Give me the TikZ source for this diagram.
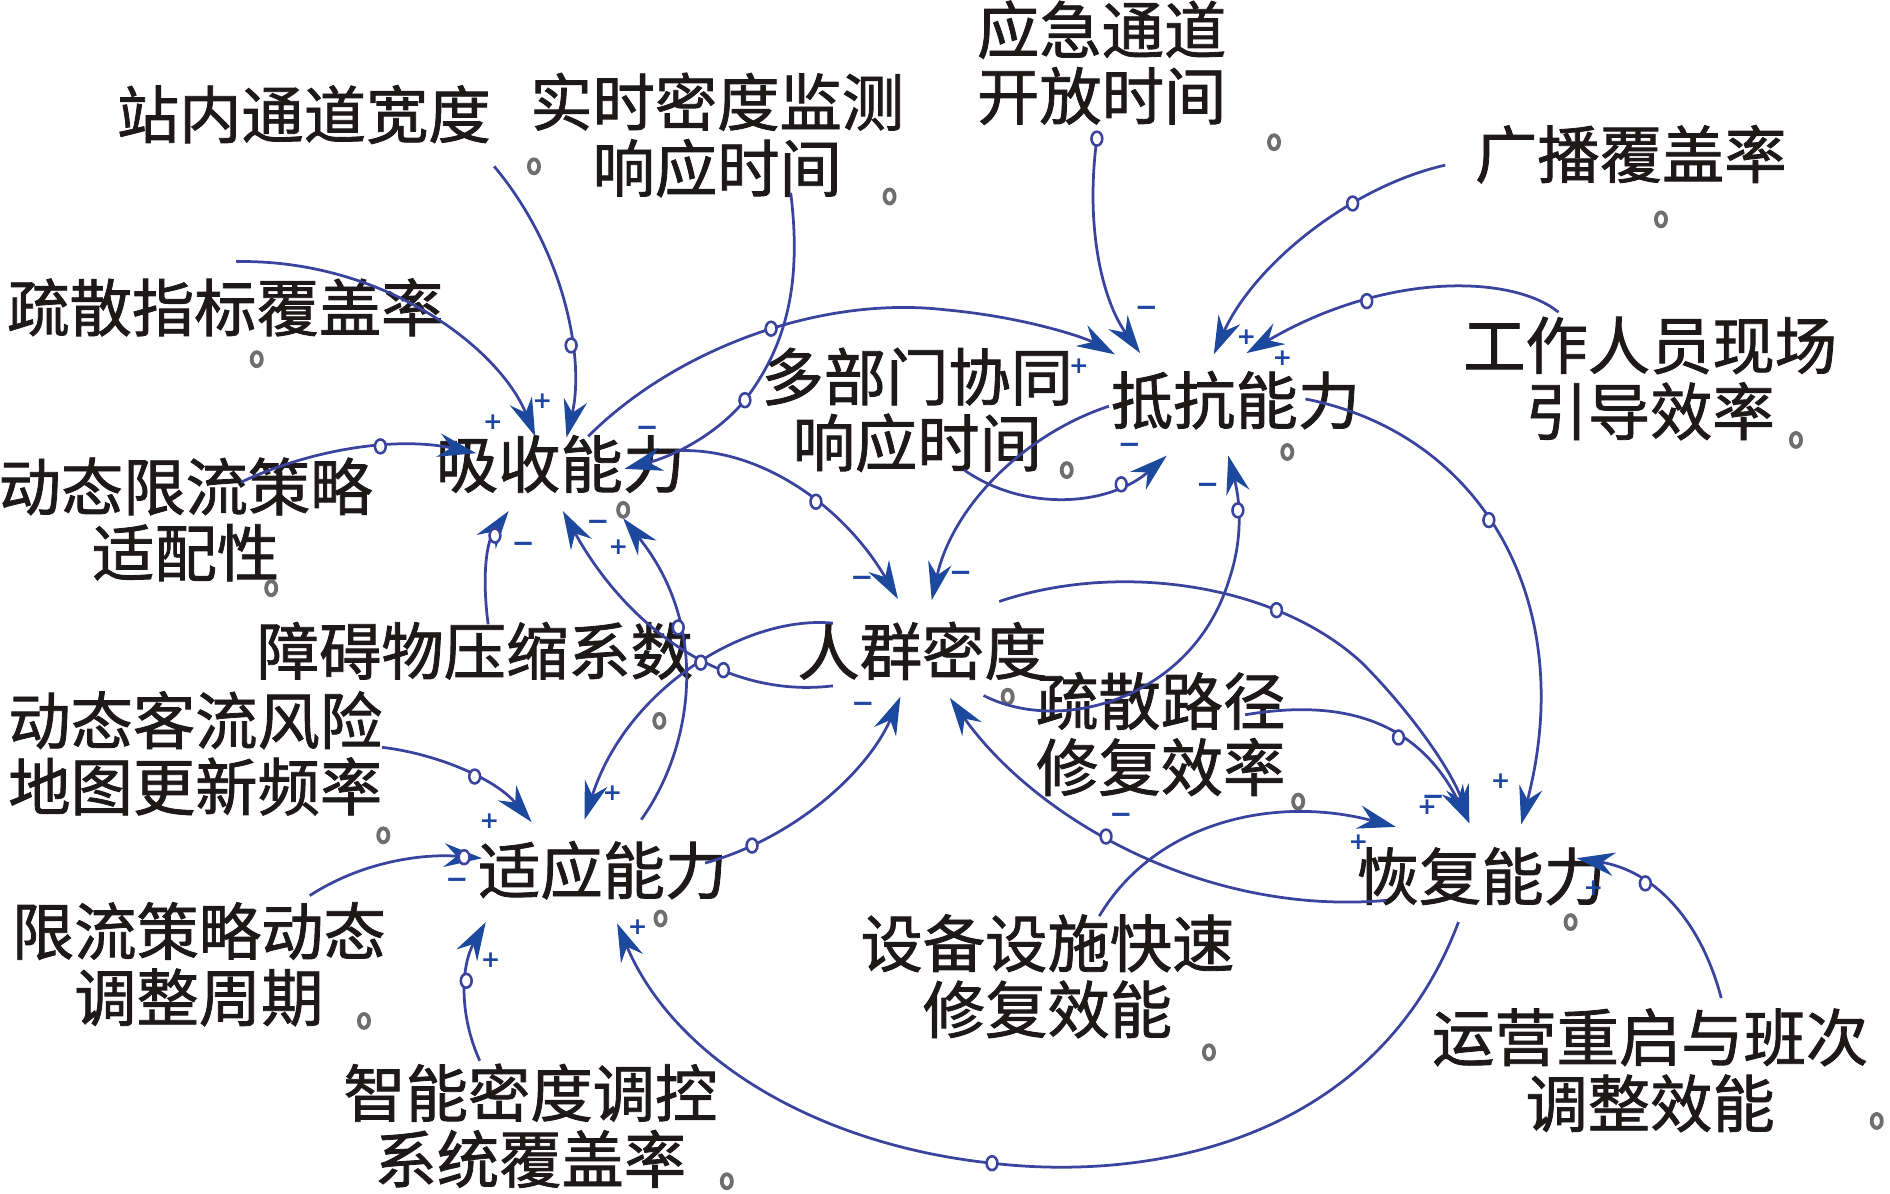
\documentclass[tikz,border=0pt]{standalone}
\usepackage{fontspec}
\setmainfont{Noto Sans CJK SC}[FakeBold=1.3]
\newfontfamily\signfont{DejaVu Sans}
\usetikzlibrary{arrows.meta,calc}
\definecolor{lnkc}{RGB}{58,68,158}
\definecolor{tipc}{RGB}{28,72,158}
\definecolor{sgnc}{RGB}{30,70,160}
\definecolor{mkc}{RGB}{110,110,110}
\definecolor{txtc}{RGB}{30,25,25}
\tikzset{
  var/.style={align=center, inner sep=0pt, font=\fontsize{14.7}{15.6}\selectfont, text=txtc},
  lnk/.style={draw=lnkc, line width=0.65pt, -{Stealth[length=9pt,width=5.6pt,inset=3pt,color=tipc]}},
  hdl/.style={ellipse, draw=lnkc, fill=white, line width=0.6pt, inner sep=0pt, minimum width=0.09cm, minimum height=0.115cm},
  sgp/.style={inner sep=0pt, text=sgnc, font=\signfont\bfseries\fontsize{5.5}{5.5}\selectfont},
  sgm/.style={inner sep=0pt, text=sgnc, font=\signfont\bfseries\fontsize{6.5}{6.5}\selectfont},
  mk/.style={draw=mkc, line width=0.9pt, fill=white},
}
\usetikzlibrary{shapes.geometric}
\begin{document}
\begin{tikzpicture}[x=0.01cm,y=-0.01cm]
\useasboundingbox (0,0) rectangle (1568,990.5);
% variables
\node[var] (zn)   at (252,95)   {站内通道宽度};
\node[var] (ss)   at (595,112)  {实时密度监测\\响应时间};
\node[var] (yj)   at (914,52)   {应急通道\\开放时间};
\node[var] (gb)   at (1353,128) {广播覆盖率};
\node[var] (szb)  at (187,255)  {疏散指标覆盖率};
\node[var] (gz)   at (1369,314) {工作人员现场\\引导效率};
\node[var] (dbm)  at (761,340)  {多部门协同\\响应时间};
\node[var] (dk)   at (1025,332) {抵抗能力};
\node[var] (xs)   at (465,385)  {吸收能力};
\node[var] (dtxl) at (154,431)  {动态限流策略\\适配性};
\node[var] (zaw)  at (394,540)  {障碍物压缩系数};
\node[var] (rq)   at (765,540)  {人群密度};
\node[var] (sslj) at (963,609)  {疏散路径\\修复效率};
\node[var] (dtkl) at (162,625)  {动态客流风险\\地图更新频率};
\node[var] (sy)   at (500,722)  {适应能力};
\node[var] (hf)   at (1229,727) {恢复能力};
\node[var] (xlcl) at (165,800)  {限流策略动态\\调整周期};
\node[var] (sb)   at (869,810)  {设备设施快速\\修复效能};
\node[var] (zmd)  at (440,934)  {智能密度调控\\系统覆盖率};
\node[var] (yy)   at (1369,888) {运营重启与班次\\调整效能};
% variable markers
\foreach \p in {(443,138),(738,163),(1057,118),(1378,182),(213,298),(1490,365),(885,390),(1068,375),(517,423),(225,488),(547,598),(836,578),(1077,665),(318,693),(548,762),(1303,765),(302,847),(1003,873),(603,980),(1557,930)}
  \draw[mk] \p ellipse [x radius=4.2, y radius=5.8];
% connectors into 吸收能力
\draw[lnk] ($(szb)+(9,-38)$) .. controls (320,215) and (415,290) .. ($(xs)+(-21,-23)$);
\draw[lnk] ($(zn)+(158,43)$) .. controls (470,210) and (485,300) .. ($(xs)+(5,-22)$) node[hdl,pos=.64] (h2) {};
\draw[lnk] ($(dtxl)+(46,-31)$) .. controls (260,372) and (330,362) .. ($(xs)+(-70,-9)$) node[hdl,pos=.6] (h3) {};
\draw[lnk] ($(ss)+(61,48)$) .. controls (666,240) and (650,290) .. (618,332) node[hdl,pos=1] (h4) {} .. controls (595,360) and (560,378) .. ($(xs)+(53,4)$);
\draw[lnk] ($(zaw)+(11,-22)$) .. controls (400,480) and (403,450) .. ($(xs)+(-43,39)$) node[hdl,pos=.75] (h22) {};
\draw[lnk] ($(rq)+(-74,29)$) .. controls (600,580) and (520,520) .. ($(xs)+(2,39)$) node[hdl,pos=.35] (h21) {};
\draw[lnk] ($(sy)+(32,-42)$) .. controls (575,620) and (590,520) .. ($(xs)+(52,45)$) node[hdl,pos=.67] (h20) {};
% out of 吸收能力
\draw[lnk] ($(xs)+(23,-23)$) .. controls (560,290) and (680,245) .. (784,257) node[hdl,pos=.55] (h5) {} .. controls (850,263) and (900,280) .. ($(dk)+(-100,-38)$);
\draw[lnk] ($(xs)+(95,-11)$) .. controls (630,370) and (700,420) .. ($(rq)+(-20,-43)$) node[hdl,pos=.58] (h6) {};
% into 抵抗能力
\draw[lnk] ($(yj)+(-4,63)$) .. controls (900,190) and (915,250) .. ($(dk)+(-79,-39)$) node[hdl,pos=0] (h9) {};
\draw[lnk] ($(gb)+(-154,9)$) .. controls (1120,155) and (1040,220) .. ($(dk)+(-18,-38)$) node[hdl,pos=.33] (h10) {};
\draw[lnk] ($(gz)+(-76,-55)$) .. controls (1255,228) and (1150,225) .. ($(dk)+(9,-39)$) node[hdl,pos=.7] (h11) {};
\draw[lnk] ($(dbm)+(39,50)$) .. controls (850,425) and (920,420) .. ($(dk)+(-57,46)$) node[hdl,pos=.76] (h8) {};
\draw[lnk] ($(rq)+(51,37)$) .. controls (880,610) and (990,580) .. (1020,480) .. controls (1030,450) and (1030,420) .. ($(dk)+(-6,46)$) node[hdl,pos=.6] (h13) {};
% out of 抵抗能力
\draw[lnk] ($(dk)+(-105,5)$) .. controls (850,360) and (790,420) .. ($(rq)+(8,-42)$);
\draw[lnk] ($(dk)+(58,-1)$) .. controls (1230,360) and (1310,500) .. ($(hf)+(33,-43)$) node[hdl,pos=.45] (h12) {};
% 人群密度 related
\draw[lnk] ($(rq)+(64,-41)$) .. controls (930,465) and (1060,485) .. (1130,550) node[hdl,pos=.72] (h14) {} .. controls (1170,590) and (1205,640) .. ($(hf)+(-10,-44)$);
\draw[lnk] ($(sslj)+(70,-16)$) .. controls (1110,580) and (1175,595) .. ($(hf)+(-10,-44)$) node[hdl,pos=.62] (h15) {};
\draw[lnk] ($(sb)+(43,-50)$) .. controls (960,680) and (1060,660) .. ($(hf)+(-71,-41)$);
\draw[lnk] ($(hf)+(-79,20)$) .. controls (1000,760) and (860,680) .. ($(rq)+(23,39)$) node[hdl,pos=.56] (h17) {};
\draw[lnk] ($(sy)+(85,-6)$) .. controls (660,695) and (720,640) .. ($(rq)+(-18,38)$) node[hdl,pos=.18] (h18) {};
\draw[lnk] ($(rq)+(-74,-23)$) .. controls (620,510) and (520,570) .. ($(sy)+(-15,-42)$) node[hdl,pos=.47] (h19) {};
% into 适应能力
\draw[lnk] ($(dtkl)+(155,-5)$) .. controls (360,625) and (410,645) .. ($(sy)+(-59,-40)$) node[hdl,pos=.58] (h23) {};
\draw[lnk] ($(xlcl)+(92,-57)$) .. controls (300,715) and (350,708) .. ($(sy)+(-100,-10)$) node[hdl,pos=.9] (h24) {};
\draw[lnk] ($(zmd)+(-42,-54)$) .. controls (380,840) and (383,800) .. ($(sy)+(-97,43)$) node[hdl,pos=.56] (h25) {};
\draw[lnk] ($(hf)+(-19,38)$) .. controls (1140,950) and (950,980) .. (823,965) node[hdl,pos=1] (h26) {} .. controls (680,950) and (560,880) .. ($(sy)+(12,44)$);
% into 恢复能力
\draw[lnk] ($(yy)+(59,-60)$) .. controls (1410,760) and (1370,722) .. ($(hf)+(79,-15)$) node[hdl,pos=.65] (h27) {};
% polarity signs
\node[sgp] (s1)  at (409,350)  {+};
\node[sgp] (s2)  at (450,333)  {+};
\node[sgm] (s4)  at (537,358)  {−};
\node[sgp] (s5)  at (895,304)  {+};
\node[sgm] (s6)  at (715,482)  {−};
\node[sgm] (s7)  at (797,478)  {−};
\node[sgm] (s8)  at (937,372)  {−};
\node[sgm] (s9)  at (951,258)  {−};
\node[sgp] (s10) at (1034,280) {+};
\node[sgp] (s11) at (1064,297) {+};
\node[sgp] (s12) at (1245,648) {+};
\node[sgm] (s13) at (1002,405) {−};
\node[sgp] (s14) at (1184,670) {+};
\node[sgm] (s15) at (1189,664) {−};
\node[sgp] (s16) at (1127,699) {+};
\node[sgm] (s17) at (930,679)  {−};
\node[sgm] (s18) at (716,587)  {−};
\node[sgp] (s19) at (508,658)  {+};
\node[sgp] (s20) at (513,454)  {+};
\node[sgm] (s21) at (496,436)  {−};
\node[sgm] (s22) at (434,454)  {−};
\node[sgp] (s23) at (406,681)  {+};
\node[sgm] (s24) at (379,733)  {−};
\node[sgp] (s25) at (407,797)  {+};
\node[sgp] (s26) at (529,769)  {+};
\node[sgp] (s27) at (1322,737) {+};
\end{tikzpicture}
\end{document}
